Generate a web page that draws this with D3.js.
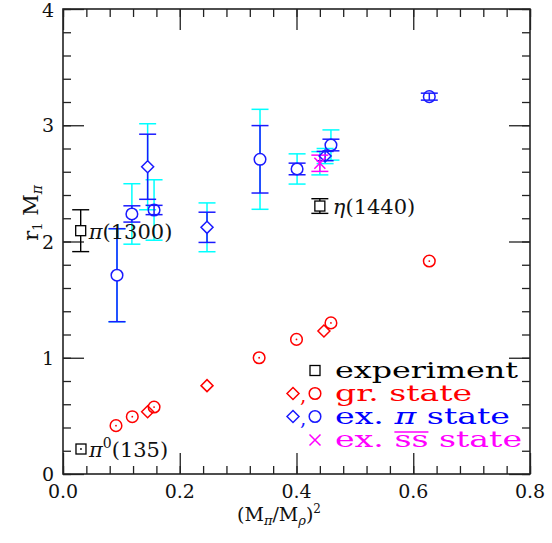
<!DOCTYPE html>
<html><head><meta charset="utf-8">
<script src="https://cdn.jsdelivr.net/npm/d3@7"></script>
<style>body{margin:0;background:#fff}svg{display:block}text{font-family:"DejaVu Serif",serif}.gk{font-family:"DejaVu Serif",serif;font-style:italic}</style>
</head><body>
<svg id="c" width="552" height="543"></svg>
<script>
// ---- data ----
const xTicks = [0.0, 0.2, 0.4, 0.6, 0.8];
const xTickLabels = ["0.0", "0.2", "0.4", "0.6", "0.8"];
const yTicks = [0, 1, 2, 3, 4];
const yTickLabels = ["0", "1", "2", "3", "4"];

// excited pi state, circles
const exPiCircX = [0.0925, 0.118, 0.156, 0.3375, 0.401, 0.459, 0.6275];
const exPiCircY = [1.71, 2.237, 2.271, 2.707, 2.624, 2.83, 3.246];
const exPiCircErr = [0.40, 0.07, 0.04, 0.29, 0.05, 0.05, 0.03];
const exPiCircSys = [0.40, 0.26, 0.26, 0.43, 0.13, 0.13, 0.0];
// excited pi state, diamonds
const exPiDiamX = [0.145, 0.2467, 0.449];
const exPiDiamY = [2.643, 2.122, 2.735];
const exPiDiamErr = [0.28, 0.13, 0.04];
const exPiDiamSys = [0.37, 0.21, 0.065];
// excited s-sbar state
const exSsX = [0.440];
const exSsY = [2.673];
const exSsErr = [0.07];
const exSsSys = [0.10];
// ground state
const grCircX = [0.0908, 0.1187, 0.156, 0.336, 0.400, 0.459, 0.6275];
const grCircY = [0.416, 0.493, 0.576, 1.0, 1.158, 1.30, 1.832];
const grDiamX = [0.145, 0.2467, 0.447];
const grDiamY = [0.536, 0.760, 1.23];
// experiment
const expX = [0.0303, 0.440, 0.0308];
const expY = [2.093, 2.305, 0.215];
const expErr = [0.18, 0.063, 0.0];
const expLabels = ["π(1300)", "η(1440)", "π0(135)"];

const legendLabels = ["experiment", "gr. state", "ex. π state", "ex. ss state"];
const legendColors = ["#000000", "#ff0000", "#0000ff", "#ff00ff"];

// ---- layout ----
const svg = d3.select("#c");
const L = 63, R = 530, T = 9, B = 474;
const x = d3.scaleLinear().domain([0, 0.8]).range([L, R]);
const y = d3.scaleLinear().domain([0, 4]).range([B, T]);
const BLUE = "#1a1aff", CYAN = "#00ffff", RED = "#ff0000", MAG = "#ff00ff", BLK = "#000";

// axes: ticks inward on all four sides
const minorX = d3.range(0, 0.8001, 0.04);
const minorY = d3.range(0, 4.0001, 0.2);
function styleAxis(g) {
  g.select(".domain").remove();
  g.selectAll("line").attr("stroke", "#222").attr("stroke-width", 1.3);
}
svg.append("g").attr("transform", `translate(0,${B})`)
  .call(d3.axisBottom(x).tickValues(minorX).tickSize(-8).tickFormat("")).call(styleAxis);
svg.append("g").attr("transform", `translate(0,${B})`)
  .call(d3.axisBottom(x).tickValues(xTicks).tickSize(-21).tickFormat("")).call(styleAxis);
svg.append("g").attr("transform", `translate(0,${T})`)
  .call(d3.axisTop(x).tickValues(minorX).tickSize(-8).tickFormat("")).call(styleAxis);
svg.append("g").attr("transform", `translate(0,${T})`)
  .call(d3.axisTop(x).tickValues(xTicks).tickSize(-21).tickFormat("")).call(styleAxis);
svg.append("g").attr("transform", `translate(${L},0)`)
  .call(d3.axisLeft(y).tickValues(minorY).tickSize(-8).tickFormat("")).call(styleAxis);
svg.append("g").attr("transform", `translate(${L},0)`)
  .call(d3.axisLeft(y).tickValues(yTicks).tickSize(-21).tickFormat("")).call(styleAxis);
svg.append("g").attr("transform", `translate(${R},0)`)
  .call(d3.axisRight(y).tickValues(minorY).tickSize(-8).tickFormat("")).call(styleAxis);
svg.append("g").attr("transform", `translate(${R},0)`)
  .call(d3.axisRight(y).tickValues(yTicks).tickSize(-21).tickFormat("")).call(styleAxis);
svg.append("rect").attr("x", L).attr("y", T).attr("width", R - L).attr("height", B - T)
  .attr("fill", "none").attr("stroke", "#222").attr("stroke-width", 1.6);

// tick labels
svg.append("g").selectAll("text").data(xTicks).join("text")
  .attr("x", d => x(d)).attr("y", 498).attr("text-anchor", "middle")
  .attr("font-size", 19).attr("fill", "#111").text((d, i) => xTickLabels[i]);
svg.append("g").selectAll("text").data(yTicks).join("text")
  .attr("x", 54).attr("y", d => Math.max(y(d) + 7, 17)).attr("text-anchor", "end")
  .attr("font-size", 19).attr("fill", "#111").text((d, i) => yTickLabels[i]);

// axis titles
const xt = svg.append("text").attr("x", 279).attr("y", 521).attr("text-anchor", "middle")
  .attr("font-size", 19).attr("fill", "#111");
xt.append("tspan").text("(M");
xt.append("tspan").attr("class", "gk").attr("font-size", 13).attr("dy", 4).text("π");
xt.append("tspan").attr("dy", -4).text("/M");
xt.append("tspan").attr("class", "gk").attr("font-size", 13).attr("dy", 4).text("ρ");
xt.append("tspan").attr("dy", -4).text(")");
xt.append("tspan").attr("font-size", 12).attr("dy", -8).text("2");

const yt = svg.append("text").attr("transform", "translate(38,213) rotate(-90)")
  .attr("text-anchor", "middle").attr("font-size", 21).attr("fill", "#111");
yt.append("tspan").text("r");
yt.append("tspan").attr("font-size", 13).attr("dy", 4).text("1");
yt.append("tspan").attr("dy", -4).text(" M");
yt.append("tspan").attr("class", "gk").attr("font-size", 14).attr("dy", 4).text("π");

// ---- marks ----
const plot = svg.append("g");
const CAP = 8.5;
function errBar(g, cx, cy, e, color, gap, w) {
  const px = x(cx), top = y(cy + e), bot = y(cy - e), mid = y(cy);
  if (e <= 0) return;
  if (mid - top > gap) {
    g.append("line").attr("x1", px).attr("x2", px).attr("y1", top).attr("y2", mid - gap);
    g.append("line").attr("x1", px).attr("x2", px).attr("y1", mid + gap).attr("y2", bot);
  } else {
    g.append("line").attr("x1", px).attr("x2", px).attr("y1", top).attr("y2", bot);
  }
  g.append("line").attr("x1", px - CAP).attr("x2", px + CAP).attr("y1", top).attr("y2", top);
  g.append("line").attr("x1", px - CAP).attr("x2", px + CAP).attr("y1", bot).attr("y2", bot);
  g.selectAll("line").attr("stroke", color).attr("stroke-width", w || 1.5);
}
function circle(g, px, py, color, dot) {
  g.append("circle").attr("cx", px).attr("cy", py).attr("r", 5.8)
    .attr("fill", "none").attr("stroke", color).attr("stroke-width", 1.5);
  if (dot) g.append("circle").attr("cx", px).attr("cy", py).attr("r", 0.9).attr("fill", color);
}
function diamond(g, px, py, color) {
  const s = 6;
  g.append("path").attr("d", `M${px},${py - s}L${px + s},${py}L${px},${py + s}L${px - s},${py}Z`)
    .attr("fill", "none").attr("stroke", color).attr("stroke-width", 1.5);
}
function square(g, px, py, color, dot) {
  const s = 5;
  g.append("rect").attr("x", px - s).attr("y", py - s).attr("width", 2 * s).attr("height", 2 * s)
    .attr("fill", "none").attr("stroke", color).attr("stroke-width", 1.3);
  if (dot) g.append("circle").attr("cx", px).attr("cy", py).attr("r", 0.9).attr("fill", color);
}
function cross(g, px, py, color) {
  const s = 5.5;
  g.append("path").attr("d", `M${px - s},${py - s}L${px + s},${py + s}M${px - s},${py + s}L${px + s},${py - s}`)
    .attr("stroke", color).attr("stroke-width", 1.5);
}

// systematic (cyan) error bars first
exPiCircX.forEach((v, i) => errBar(plot.append("g"), v, exPiCircY[i], exPiCircSys[i], CYAN, 5.8));
exPiDiamX.forEach((v, i) => errBar(plot.append("g"), v, exPiDiamY[i], exPiDiamSys[i], CYAN, 6));
exSsX.forEach((v, i) => errBar(plot.append("g"), v, exSsY[i], exSsSys[i], CYAN, 0));
// statistical error bars
exPiCircX.forEach((v, i) => errBar(plot.append("g"), v, exPiCircY[i], exPiCircErr[i], BLUE, 5.8));
exPiDiamX.forEach((v, i) => errBar(plot.append("g"), v, exPiDiamY[i], exPiDiamErr[i], BLUE, 6));
exSsX.forEach((v, i) => errBar(plot.append("g"), v, exSsY[i], exSsErr[i], MAG, 0));
expX.forEach((v, i) => errBar(plot.append("g"), v, expY[i], expErr[i], BLK, 5, 1.4));

// symbols
exPiCircX.forEach((v, i) => circle(plot, x(v), y(exPiCircY[i]), BLUE, false));
exPiDiamX.forEach((v, i) => diamond(plot, x(v), y(exPiDiamY[i]), BLUE));
exSsX.forEach((v, i) => cross(plot, x(v), y(exSsY[i]), MAG));
grCircX.forEach((v, i) => circle(plot, x(v), y(grCircY[i]), RED, true));
grDiamX.forEach((v, i) => diamond(plot, x(v), y(grDiamY[i]), RED));
expX.forEach((v, i) => square(plot, x(v), y(expY[i]), BLK, i === 2));

// experiment labels
expX.forEach((v, i) => {
  const t = plot.append("text").attr("x", x(v) + 8).attr("y", y(expY[i]) + 8)
    .attr("font-size", 21).attr("fill", "#111");
  if (i === 2) {
    t.append("tspan").attr("class", "gk").text("π");
    t.append("tspan").attr("font-size", 14).attr("dy", -9).text("0");
    t.append("tspan").attr("dy", 9).text("(135)");
  } else if (i === 1) {
    t.attr("x", x(v) + 13);
    t.append("tspan").attr("class", "gk").text("η");
    t.append("tspan").text("(1440)");
  } else {
    t.append("tspan").attr("class", "gk").text("π");
    t.append("tspan").text("(1300)");
  }
});

// ---- legend ----
const leg = svg.append("g");
const legY = [370.5, 393.5, 416.5, 440];
const legW = [183, 137, 175, 187];
legendLabels.forEach((lab, i) => {
  const t = leg.append("text").attr("x", 335).attr("y", legY[i] + 7)
    .attr("font-size", 22).attr("fill", legendColors[i])
    .attr("textLength", legW[i]).attr("lengthAdjust", "spacingAndGlyphs");
  if (i === 2) {
    t.append("tspan").text("ex. ");
    t.append("tspan").attr("class", "gk").text("π");
    t.append("tspan").text(" state");
  } else {
    t.text(lab);
  }
  if (i === 3) {
    const node = t.node();
    const s0 = node.getStartPositionOfChar(4).x;
    const e1 = node.getEndPositionOfChar(5).x;
    leg.append("line").attr("x1", s0).attr("x2", e1).attr("y1", legY[i] - 8).attr("y2", legY[i] - 8)
      .attr("stroke", MAG).attr("stroke-width", 1.5);
  }
});
square(leg, 315, legY[0], BLK, false);
diamond(leg, 293, legY[1], RED);
leg.append("text").attr("x", 300).attr("y", legY[1] + 8).attr("font-size", 20).attr("fill", RED).text(",");
circle(leg, 315, legY[1], RED, false);
diamond(leg, 293, legY[2], BLUE);
leg.append("text").attr("x", 300).attr("y", legY[2] + 8).attr("font-size", 20).attr("fill", BLUE).text(",");
circle(leg, 315, legY[2], BLUE, false);
cross(leg, 315, legY[3], MAG);
</script>
</body></html>
